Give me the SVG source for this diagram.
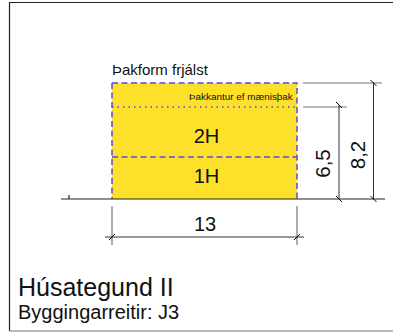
<svg xmlns="http://www.w3.org/2000/svg" width="393" height="334" viewBox="0 0 393 334">
<style>
text{font-family:"Liberation Sans",Arial,sans-serif;fill:#111}
.dash{fill:none;stroke:#5a48e6;stroke-width:1.500;stroke-dasharray:6 3.5}
.dot{fill:none;stroke:#5a48e6;stroke-width:1.500;stroke-dasharray:1.5 4}
.dim{fill:none;stroke:#333;stroke-width:1}
.ext{fill:none;stroke:#777;stroke-width:1.200}
.tick{fill:none;stroke:#111;stroke-width:1}
</style>
<rect width="393" height="334" fill="#fff"/>
<g id="frame"><path d="M9.500 331V2.500H393" fill="none" stroke="#222" stroke-width="1.200"/><path d="M9 331H393" fill="none" stroke="#777" stroke-width="1.200"/></g>
<g id="building">
<rect x="112" y="83" width="185" height="116" fill="#fde029"/>
<path class="dash" d="M112 83H297V199"/>
<path class="dash" d="M112 83V199"/>
<path class="dash" d="M112 157H297"/>
<path class="dot" d="M112 107H297"/>
</g>
<g id="connectors">
<path d="M61 199H385M69 195V199" fill="none" stroke="#222" stroke-width="1.200"/>
<path class="ext" d="M303 83H382M303 107H347"/>
<path class="dim" d="M339 105V199M373.500 82V199"/>
<path class="ext" d="M112 206V245M297 206V245"/>
<path class="dim" d="M105 237H304"/>
<path class="tick" d="M336 102L342 108M336 196L342 202M370.500 80L376.500 86M370.500 196L376.500 202M109 240L115 234M294 240L300 234"/>
</g>
<g id="labels">
<text x="112" y="75" font-size="15">Þakform frjálst</text>
<text x="189" y="100" font-size="9.900">Þakkantur ef mænisþak</text>
<text x="206.500" y="142.500" font-size="20" text-anchor="middle">2H</text>
<text x="206.500" y="182.500" font-size="20" text-anchor="middle">1H</text>
<text x="205" y="231" font-size="20" text-anchor="middle">13</text>
<text transform="translate(330 163.500) rotate(-90)" font-size="20.500" text-anchor="middle">6,5</text>
<text transform="translate(365 155) rotate(-90)" font-size="20.500" text-anchor="middle">8,2</text>
<text x="18" y="296" font-size="25">Húsategund II</text>
<text x="18" y="319" font-size="20">Byggingarreitir: J3</text>
</g>
</svg>
